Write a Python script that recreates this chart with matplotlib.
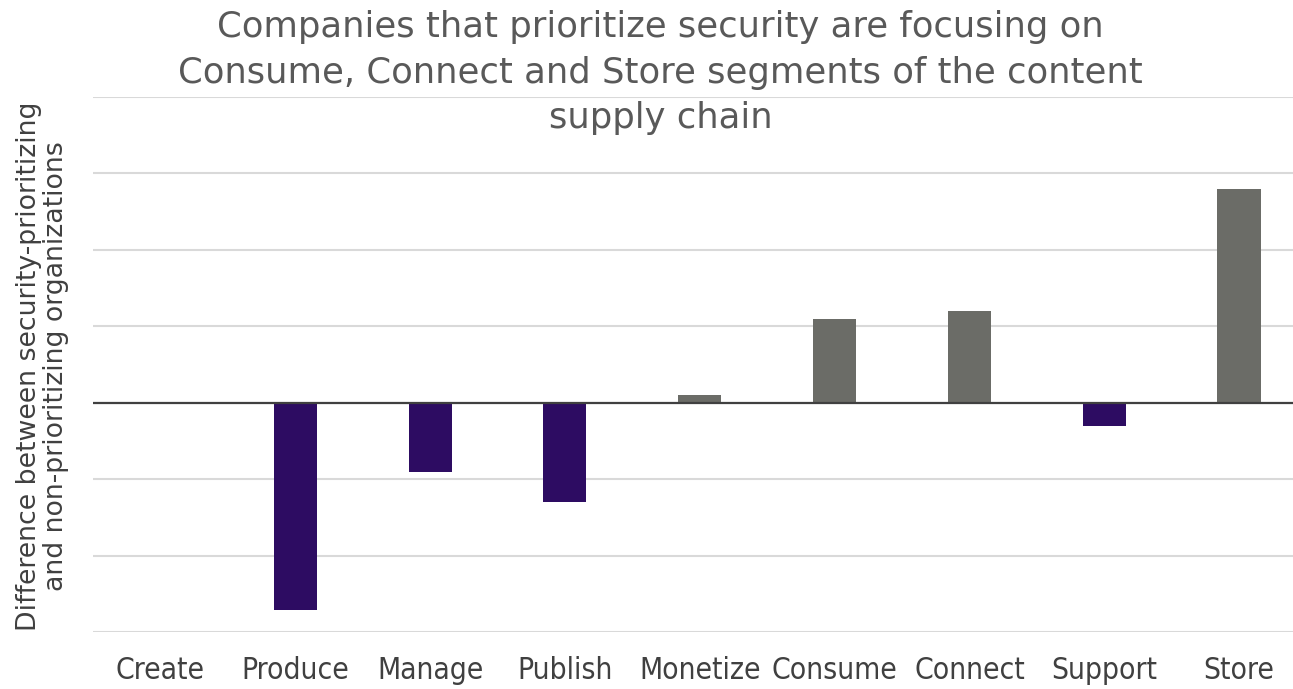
import matplotlib.pyplot as plt

# data
segments = ["Create", "Produce", "Manage", "Publish", "Monetize",
            "Consume", "Connect", "Support", "Store"]
difference = [0.0, -2.71, -0.90, -1.30, 0.10, 1.10, 1.20, -0.30, 2.80]

purple = "#2D0C62"
grey = "#6B6C67"
colores = [grey if d >= 0 else purple for d in difference]

fig = plt.figure(figsize=(12.93, 6.89), dpi=100)
ax = fig.add_axes([93/1293, 57/689, 1 - 93/1293, (633-98)/689])

ax.bar(range(len(segments)), difference, width=0.32, color=colores, zorder=3)

ax.set_ylim(-3, 4)
ax.set_xlim(-0.5, 8.4)
ax.set_yticks(range(-3, 5))
ax.set_yticklabels([])
ax.tick_params(axis="y", length=0)
ax.grid(axis="y", color="#D9D9D9", linewidth=1.5, zorder=0)
ax.axhline(0, color="#404040", linewidth=1.6, zorder=4)

ax.set_xticks(range(len(segments)))
ax.set_xticklabels(segments, fontsize=21.5, color="#404040", fontstretch="condensed")
ax.tick_params(axis="x", length=0, pad=17)

for s in ax.spines.values():
    s.set_visible(False)

fig.text(0.511, 1 - 10/689,
         "Companies that prioritize security are focusing on\n"
         "Consume, Connect and Store segments of the content\n"
         "supply chain",
         ha="center", va="top", fontsize=25.5, color="#595959", linespacing=1.43)

fig.text(43/1293, 1 - 366/689,
         "Difference between security-prioritizing\nand non-prioritizing organizations",
         rotation=90, ha="center", va="center", fontsize=19.3, color="#404040",
         linespacing=1.05)

fig.savefig("out.png", dpi=100)
